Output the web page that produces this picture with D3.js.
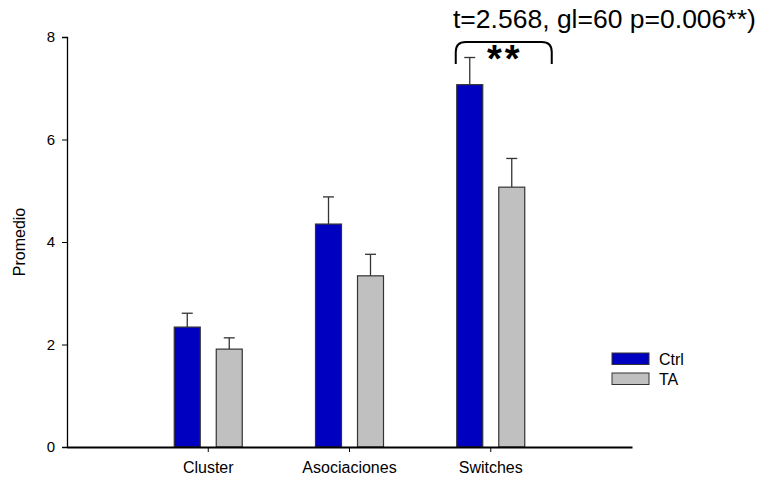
<!DOCTYPE html>
<html>
<head>
<meta charset="utf-8">
<script src="https://cdn.jsdelivr.net/npm/d3@7"></script>
<style>
  html, body { margin: 0; padding: 0; background: #fff; }
  svg { display: block; font-family: Arial, "Liberation Sans", sans-serif; }
</style>
</head>
<body>
<svg id="chart" width="765" height="480"></svg>
<script>
const categories = ["Cluster", "Asociaciones", "Switches"];
const seriesNames = ["Ctrl", "TA"];
const ctrlMeans = [2.34, 4.35, 7.07];
const ctrlErr = [0.27, 0.53, 0.53];
const taMeans = [1.91, 3.34, 5.07];
const taErr = [0.22, 0.42, 0.56];
const yTicks = [0, 2, 4, 6, 8];
const colors = ["#0000c0", "#c0c0c0"];
const annotation = "t=2.568, gl=60 p=0.006**)";
const sigLabel = "**";

const svg = d3.select("#chart");
const x0 = 67, x1 = 632, yBottom = 447, yTop = 37;
const FONT = "Arial, 'Liberation Sans', sans-serif";

const x = d3.scaleBand().domain(categories).range([x0, x1]).paddingInner(0).paddingOuter(0.5);
const xs = d3.scaleBand().domain(seriesNames).range([-34, 34]).paddingInner(0.381).paddingOuter(0);
const y = d3.scaleLinear().domain([0, 8]).range([yBottom, yTop]);

const series = [
  { name: "Ctrl", means: ctrlMeans, errs: ctrlErr },
  { name: "TA", means: taMeans, errs: taErr }
];

// y axis
const yAxis = d3.axisLeft(y).tickValues(yTicks).tickSize(5).tickPadding(7).tickFormat(d3.format("d"));
const gy = svg.append("g").attr("transform", `translate(${x0},0)`).call(yAxis);
gy.select(".domain").attr("stroke", "#000").attr("stroke-width", 1.3);
gy.selectAll(".tick line").attr("stroke", "#000");
gy.selectAll(".tick text").attr("font-size", 15).attr("fill", "#000").attr("font-family", FONT);

// bars
series.forEach((s, si) => {
  const g = svg.append("g");
  categories.forEach((c, ci) => {
    const cx = x(c) + x.bandwidth() / 2;
    const bx = cx + xs(s.name);
    const bw = xs.bandwidth();
    const v = s.means[ci];
    const e = s.errs[ci];
    g.append("line")
      .attr("x1", bx + bw / 2).attr("x2", bx + bw / 2)
      .attr("y1", y(v)).attr("y2", y(v + e))
      .attr("stroke", "#333").attr("stroke-width", 1.3);
    g.append("line")
      .attr("x1", bx + bw / 2 - 5.5).attr("x2", bx + bw / 2 + 5.5)
      .attr("y1", y(v + e)).attr("y2", y(v + e))
      .attr("stroke", "#333").attr("stroke-width", 1.3);
    g.append("rect")
      .attr("x", bx).attr("y", y(v))
      .attr("width", bw).attr("height", y(0) - y(v))
      .attr("fill", colors[si]).attr("stroke", "#333").attr("stroke-width", 1.2);
  });
});

// x axis
const xAxis = d3.axisBottom(x).tickSize(5).tickPadding(10).tickSizeOuter(0);
const gx = svg.append("g").attr("transform", `translate(0,${yBottom})`).call(xAxis);
gx.select(".domain").attr("stroke", "#000").attr("stroke-width", 2);
gx.selectAll(".tick line").attr("stroke", "#000");
gx.selectAll(".tick text").attr("font-size", 16).attr("fill", "#000").attr("font-family", FONT);

// y label
svg.append("text")
  .attr("transform", `translate(25,${(yTop + yBottom) / 2}) rotate(-90)`)
  .attr("text-anchor", "middle")
  .attr("font-size", 16)
  .text("Promedio");

// significance bracket over Switches
const sw = x("Switches") + x.bandwidth() / 2;
const bL = sw - 35, bR = sw + 61, bT = 42, bB = 64, r = 10;
svg.append("path")
  .attr("d", `M${bL},${bB} L${bL},${bT + r} Q${bL},${bT} ${bL + r},${bT} L${bR - r},${bT} Q${bR},${bT} ${bR},${bT + r} L${bR},${bB}`)
  .attr("fill", "none").attr("stroke", "#000").attr("stroke-width", 2);
svg.append("text")
  .attr("x", (bL + bR) / 2 + 1).attr("y", 72)
  .attr("text-anchor", "middle")
  .attr("font-size", 38).attr("font-weight", "bold")
  .attr("letter-spacing", 3)
  .text(sigLabel);

svg.append("text")
  .attr("x", 453).attr("y", 28)
  .attr("font-size", 26.5)
  .text(annotation);

// legend
const legend = svg.append("g");
seriesNames.forEach((n, i) => {
  legend.append("rect")
    .attr("x", 612).attr("y", 353 + i * 20)
    .attr("width", 37).attr("height", 11.5)
    .attr("fill", colors[i]).attr("stroke", "#333").attr("stroke-width", 1);
  legend.append("text")
    .attr("x", 659).attr("y", 365 + i * 20)
    .attr("font-size", 16)
    .text(n);
});
</script>
</body>
</html>
